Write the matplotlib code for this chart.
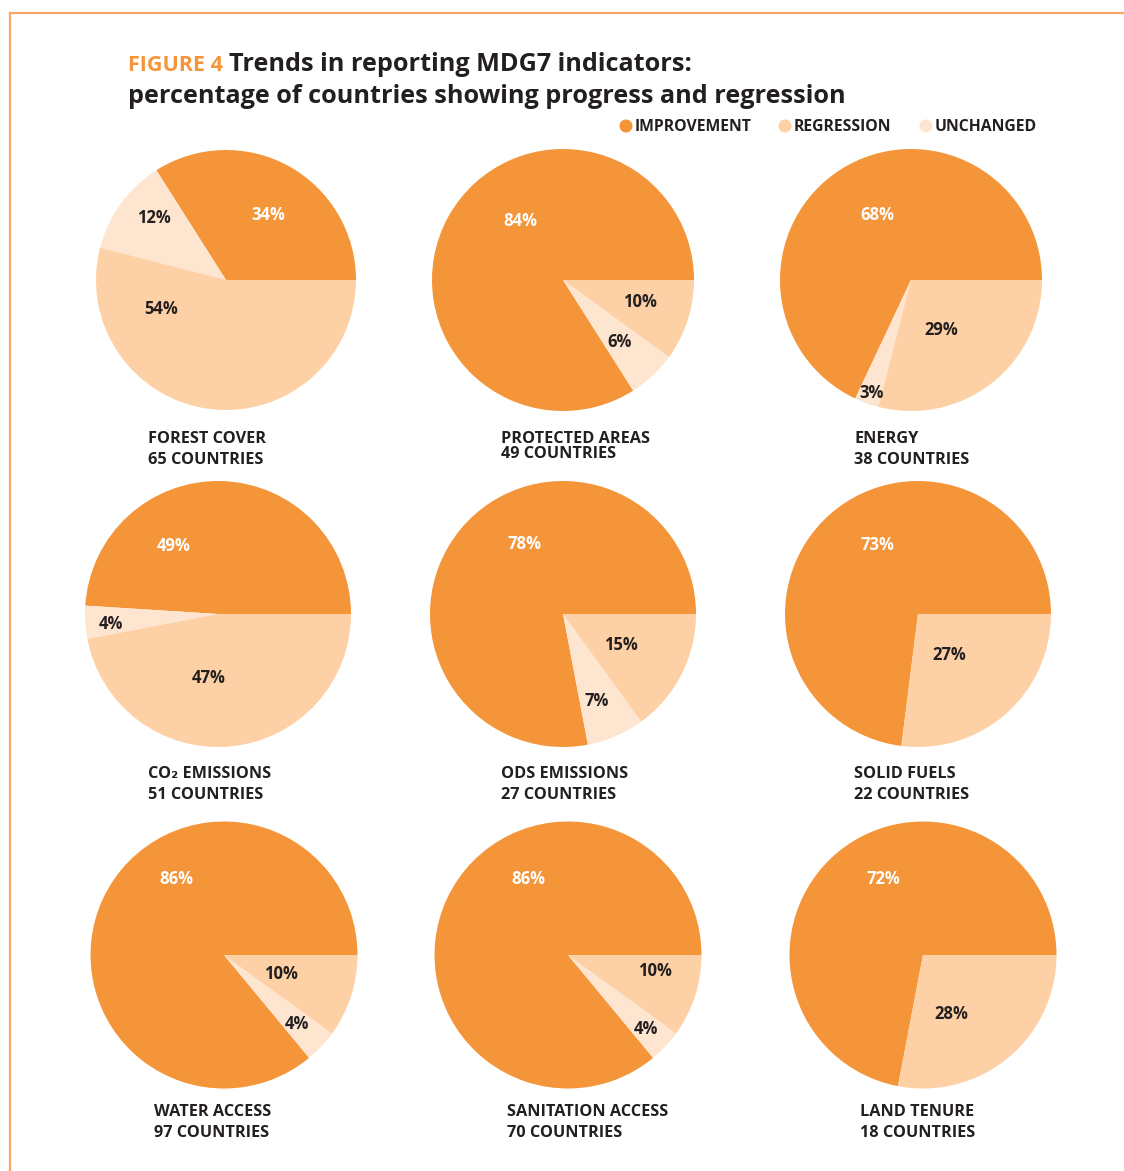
import matplotlib
matplotlib.use("Agg")
import matplotlib.pyplot as plt
from matplotlib.patches import Circle
from matplotlib.lines import Line2D

W, H = 1124, 1171

# shares per indicator: improvement, unchanged, regression (percent)
indicators = ["FOREST COVER", "PROTECTED AREAS", "ENERGY",
              "CO\u2082 EMISSIONS", "ODS EMISSIONS", "SOLID FUELS",
              "WATER ACCESS", "SANITATION ACCESS", "LAND TENURE"]
countries = [65, 49, 38, 51, 27, 22, 97, 70, 18]
improvement = [34, 84, 68, 49, 78, 73, 86, 86, 72]
unchanged = [12, 6, 3, 4, 7, 0, 4, 4, 0]
regression = [54, 10, 29, 47, 15, 27, 10, 10, 28]

legend_names = ["IMPROVEMENT", "REGRESSION", "UNCHANGED"]

C_IMP = "#F5953A"
C_REG = "#FDD0A5"
C_UNC = "#FEE5CF"
DARK = "#231F20"
FONT = ["Open Sans", "DejaVu Sans"]

# layout in pixel units (top-left origin)
centers = [(226, 280), (563, 280), (911, 280),
           (218, 614), (563, 614), (918, 614),
           (224, 955), (568, 955), (923, 955)]
radii = [130, 131, 131, 133, 133, 133, 133.5, 133.5, 133.5]
# label offsets from centre for improvement / unchanged / regression
label_off = [
    [(42, -65), (-72, -62), (-65, 29)],
    [(-43, -59), (57, 62), (77, 22)],
    [(-34, -65), (-39, 113), (30, 50)],
    [(-44, -68), (-107, 10), (-9, 64)],
    [(-39, -70), (34, 87), (58, 31)],
    [(-41, -69), None, (31, 41)],
    [(-48, -76), (73, 69), (57, 19)],
    [(-40, -76), (78, 74), (87, 16)],
    [(-40, -76), None, (28, 59)],
]
caption_xy = [(148, 439), (501, 439), (854, 439),
              (148, 774), (501, 774), (854, 774),
              (154, 1112), (507, 1112), (860, 1112)]
caption_gap = [21, 15, 21, 21, 21, 21, 21, 21, 21]

fig = plt.figure(figsize=(W / 100, H / 100), dpi=100)
ax = fig.add_axes([0, 0, 1, 1])
ax.set_xlim(0, W)
ax.set_ylim(0, H)
ax.set_aspect("equal")
ax.axis("off")


def py(y):
    return H - y


# frame lines
ax.add_line(Line2D([10, W], [py(13), py(13)], color="#F7A866", lw=1.6))
ax.add_line(Line2D([10, 10], [py(13), 0], color="#F7A866", lw=1.6))

# title
t1 = ax.text(128, py(71), "FIGURE 4 ", color=C_IMP, fontsize=15.5, fontweight="bold",
             family=FONT, va="baseline")
fig.canvas.draw()
bb = t1.get_window_extent()
ax.text(bb.x1, py(71), "Trends in reporting MDG7 indicators:", color=DARK,
        fontsize=18.2, fontweight="bold", family=FONT, va="baseline")
ax.text(128, py(103), "percentage of countries showing progress and regression",
        color=DARK, fontsize=18.2, fontweight="bold", family=FONT, va="baseline")

# legend
for name, col, x in zip(legend_names, [C_IMP, C_REG, C_UNC], [626, 785, 926]):
    ax.add_patch(Circle((x, py(126)), 6.5, color=col, lw=0))
    ax.text(x + 9, py(127), name, color=DARK, fontsize=11.3, fontweight="bold",
            family=FONT, va="center")

for i in range(9):
    cx, cy = centers[i]
    vals = [improvement[i], unchanged[i], regression[i]]
    cols = [C_IMP, C_UNC, C_REG]
    keep = [k for k in range(3) if vals[k] > 0]
    ax.pie([vals[k] for k in keep], colors=[cols[k] for k in keep],
           startangle=0, counterclock=True, center=(cx, py(cy)),
           radius=radii[i], frame=True,
           wedgeprops=dict(linewidth=0))
    for k in keep:
        dx, dy = label_off[i][k]
        ax.text(cx + dx, py(cy + dy), f"{vals[k]}%",
                color="white" if k == 0 else DARK, fontsize=12,
                fontweight="bold", family=FONT, ha="center", va="center")
    lx, ly = caption_xy[i]
    ax.text(lx, py(ly), indicators[i], color=DARK, fontsize=11.7,
            fontweight="bold", family=FONT, va="center")
    ax.text(lx, py(ly + caption_gap[i]), f"{countries[i]} COUNTRIES", color=DARK,
            fontsize=11.7, fontweight="bold", family=FONT, va="center")

ax.set_xlim(0, W)
ax.set_ylim(0, H)
ax.axis("off")
fig.savefig("out.png", dpi=100)
